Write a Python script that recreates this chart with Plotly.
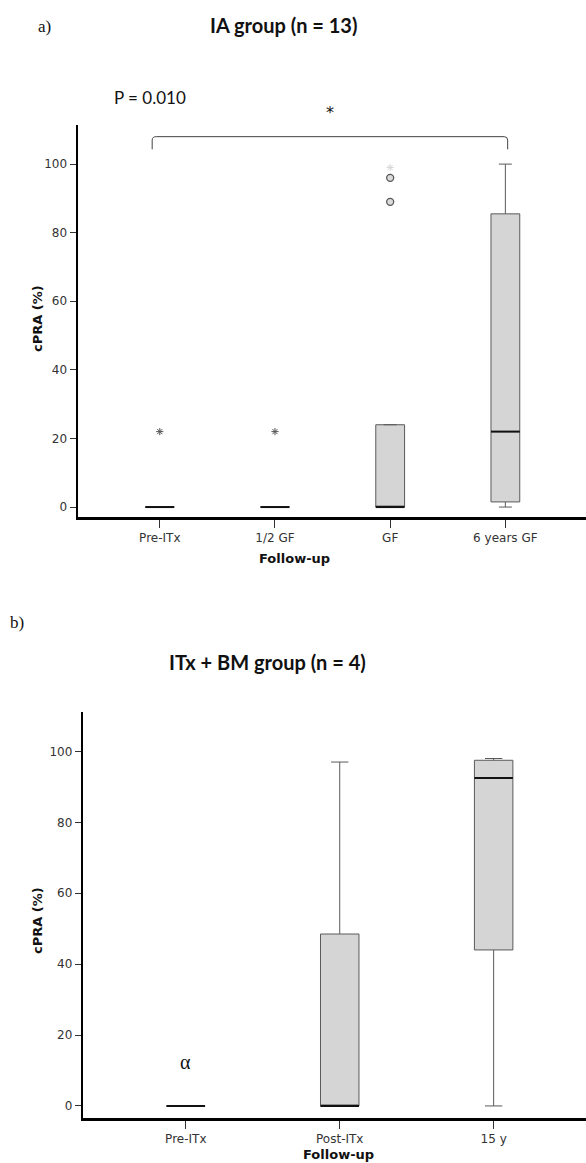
import plotly.graph_objects as go

W, H = 586, 1163

# ---------------- data ----------------
# Panel a: IA group
cats_a = ["Pre-ITx", "1/2 GF", "GF", "6 years GF"]
q1_a = [0, 0, 0, 1.5]
med_a = [0, 0, 0, 22]
q3_a = [0, 0, 24, 85.5]
lo_a = [0, 0, 0, 0]
hi_a = [0, 0, 24, 100]
star_x_a = ["Pre-ITx", "1/2 GF"]
star_y_a = [22, 22]
circ_x_a = ["GF", "GF"]
circ_y_a = [96, 89]
faint_x_a = ["GF"]
faint_y_a = [99]

# Panel b: ITx + BM group
cats_b = ["Pre-ITx", "Post-ITx", "15 y"]
q1_b = [0, 0, 44]
med_b = [0, 0, 92.5]
q3_b = [0, 48.5, 97.5]
lo_b = [0, 0, 0]
hi_b = [0, 97, 98]

yticks = [0, 20, 40, 60, 80, 100]

BOXW = 0.25
FILL = "#d5d5d5"
EDGE = "#5a5a5a"
TICKFONT = dict(family="DejaVu Sans", size=12, color="#333333")
TITLEFONT = dict(family="Lato", size=20, color="#111111")
AXTFONT = dict(family="DejaVu Sans", size=13, color="#111111")

fig = go.Figure()

# ---------- panel a ----------
fig.add_trace(go.Box(
    x=cats_a, q1=q1_a, median=med_a, q3=q3_a, lowerfence=lo_a, upperfence=hi_a,
    width=BOXW, whiskerwidth=0.45, fillcolor=FILL, line=dict(color=EDGE, width=1),
    xaxis="x", yaxis="y", showlegend=False, hoverinfo="skip", boxpoints=False))
fig.add_trace(go.Scatter(
    x=star_x_a, y=star_y_a, mode="markers", xaxis="x", yaxis="y",
    marker=dict(symbol="asterisk", size=6, line=dict(color="#555555", width=1)),
    showlegend=False, hoverinfo="skip"))
fig.add_trace(go.Scatter(
    x=faint_x_a, y=faint_y_a, mode="markers", xaxis="x", yaxis="y",
    marker=dict(symbol="asterisk", size=6, line=dict(color="#d8d8d8", width=1)),
    showlegend=False, hoverinfo="skip"))
fig.add_trace(go.Scatter(
    x=circ_x_a, y=circ_y_a, mode="markers", xaxis="x", yaxis="y",
    marker=dict(symbol="circle", size=7, color="#dcdcdc", line=dict(color="#555555", width=1.3)),
    showlegend=False, hoverinfo="skip"))

# ---------- panel b ----------
fig.add_trace(go.Box(
    x=cats_b, q1=q1_b, median=med_b, q3=q3_b, lowerfence=lo_b, upperfence=hi_b,
    width=BOXW, whiskerwidth=0.45, fillcolor=FILL, line=dict(color=EDGE, width=1),
    xaxis="x2", yaxis="y2", showlegend=False, hoverinfo="skip", boxpoints=False))

shapes = []
for i, m in enumerate(med_a):
    shapes.append(dict(type="line", xref="x", yref="y", x0=i - BOXW / 2, x1=i + BOXW / 2,
                       y0=m, y1=m, line=dict(color="#111111", width=2)))
for i, m in enumerate(med_b):
    shapes.append(dict(type="line", xref="x2", yref="y2", x0=i - BOXW / 2, x1=i + BOXW / 2,
                       y0=m, y1=m, line=dict(color="#111111", width=2)))
# significance bracket (panel a)
shapes.append(dict(type="path", xref="x", yref="y",
                   path="M -0.066 104.3 L -0.066 107 Q -0.066 108 -0.03 108 L 2.99 108 Q 3.02 108 3.02 107 L 3.02 104.3",
                   line=dict(color="#444444", width=1)))

def yax(domain, rng):
    return dict(domain=domain, range=rng, tickvals=yticks, ticks="outside", ticklen=6,
                tickwidth=1, tickcolor="#333333", showline=True, linewidth=2.5,
                linecolor="#000000", showgrid=False, zeroline=False, tickfont=TICKFONT,
                fixedrange=True, automargin=False)

def xax(domain, rng, anchor):
    return dict(domain=domain, range=rng, type="category", ticks="outside", ticklen=8,
                tickwidth=1, tickcolor="#333333", showline=True, linewidth=2.5,
                linecolor="#000000", showgrid=False, zeroline=False, tickfont=TICKFONT,
                anchor=anchor, fixedrange=True, automargin=False)

fig.update_layout(
    template="none",
    width=W, height=H, margin=dict(l=0, r=0, t=0, b=0, pad=0, autoexpand=False),
    paper_bgcolor="white", plot_bgcolor="white",
    xaxis=xax([78 / W, 1.0], [-0.71, 3.7], "y"),
    yaxis=yax([1 - 517 / H, 1 - 125 / H], [-2.9, 111.4]) | dict(anchor="x"),
    xaxis2=xax([83.3 / W, 1.0], [-0.666, 2.6], "y2"),
    yaxis2=yax([1 - 1118 / H, 1 - 711.7 / H], [-3.4, 111.2]) | dict(anchor="x2"),
    shapes=shapes,
)

ann = [
    dict(text="a)", x=44 / W, y=1 - 27 / H, font=dict(family="Liberation Serif", size=17, color="#111")),
    dict(text="<b>IA group (n = 13)</b>", x=283.5 / W, y=1 - 25 / H, font=TITLEFONT),
    dict(text="P = 0.010", x=149.7 / W, y=1 - 97 / H, font=dict(family="Lato", size=17, color="#111")),
    dict(text="*", x=330 / W, y=1 - 112 / H, font=dict(family="DejaVu Sans", size=16, color="#111")),
    dict(text="<b>cPRA (%)</b>", x=38 / W, y=1 - 318 / H, textangle=-90, font=AXTFONT),
    dict(text="<b>Follow-up</b>", x=294 / W, y=1 - 558 / H, font=AXTFONT),
    dict(text="b)", x=17 / W, y=1 - 622 / H, font=dict(family="Liberation Serif", size=17, color="#111")),
    dict(text="<b>ITx + BM group (n = 4)</b>", x=267.5 / W, y=1 - 662 / H, font=TITLEFONT),
    dict(text="<b>cPRA (%)</b>", x=38 / W, y=1 - 920 / H, textangle=-90, font=AXTFONT),
    dict(text="<b>Follow-up</b>", x=338.7 / W, y=1 - 1154 / H, font=AXTFONT),
]
for a in ann:
    a.update(xref="paper", yref="paper", showarrow=False, xanchor="center", yanchor="middle")
ann.append(dict(text="α", x=0, y=12.5, xref="x2", yref="y2", showarrow=False,
                font=dict(family="Liberation Serif", size=20, color="#111")))
fig.update_layout(annotations=ann)

fig.write_html("out.html", config={"displayModeBar": False, "staticPlot": True},
               post_script="document.body.style.margin='0';document.body.style.overflow='hidden';")
